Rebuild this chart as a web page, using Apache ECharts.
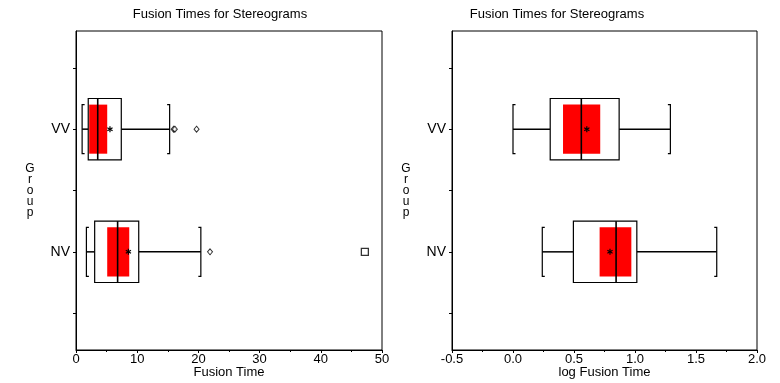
<!DOCTYPE html>
<html>
<head>
<meta charset="utf-8">
<script src="https://cdn.jsdelivr.net/npm/echarts@6/dist/echarts.min.js"></script>
<style>
  html, body { margin: 0; padding: 0; background: #fff; }
  #chart { width: 780px; height: 383px; }
</style>
</head>
<body>
<div id="chart"></div>
<script>
// groups sit at y = 1 (NV) and y = 3 (VV) on the hidden value scale
const groups = ['NV', 'VV'];
const groupPos = [1, 3];
const yTicks = [0, 1, 2, 3, 4];

// raw fusion time
const rawWhiskerLow = [1.7, 1.0];
const rawQ1 = [3.05, 2.0];
const rawMedian = [6.8, 3.55];
const rawQ3 = [10.25, 7.4];
const rawWhiskerHigh = [20.4, 15.3];
const rawCiLow = [5.1, 2.15];
const rawCiHigh = [8.7, 5.1];
const rawMean = [8.56, 5.55];
const rawOutliers = [[21.9, 1], [15.95, 3], [16.15, 3], [19.7, 3]];
const rawFarOutliers = [[47.2, 1]];

// log10 fusion time
const logWhiskerLow = [0.24, 0.0];
const logQ1 = [0.495, 0.305];
const logMedian = [0.845, 0.56];
const logQ3 = [1.015, 0.87];
const logWhiskerHigh = [1.67, 1.29];
const logCiLow = [0.71, 0.41];
const logCiHigh = [0.97, 0.715];
const logMean = [0.795, 0.605];

const rawTicks = { min: 0, max: 50, interval: 10 };
const logTicks = { min: -0.5, max: 2.0, interval: 0.5 };

function boxRows(wl, q1, md, q3, wh, cl, ch, mn) {
    return groups.map((g, i) => [groupPos[i], wl[i], q1[i], md[i], q3[i], wh[i], cl[i], ch[i], mn[i]]);
}

function renderBox(params, api) {
    const y = api.value(0);
    const wl = api.value(1), q1 = api.value(2), md = api.value(3), q3 = api.value(4);
    const wh = api.value(5), cl = api.value(6), ch = api.value(7), mn = api.value(8);
    const px = v => api.coord([v, y])[0];
    const py = api.coord([0, y])[1];
    const boxTop = api.coord([0, y + 0.5])[1], boxBot = api.coord([0, y - 0.5])[1];
    const brTop = api.coord([0, y + 0.4])[1], brBot = api.coord([0, y - 0.4])[1];
    const black = { stroke: '#000', fill: null, lineWidth: 1.2 };
    const kids = [];
    // whiskers
    kids.push({ type: 'line', shape: { x1: px(wl), y1: py, x2: px(q1), y2: py }, style: { stroke: '#000', lineWidth: 1.5 } });
    kids.push({ type: 'line', shape: { x1: px(q3), y1: py, x2: px(wh), y2: py }, style: { stroke: '#000', lineWidth: 1.5 } });
    // brackets
    kids.push({ type: 'polyline', shape: { points: [[px(wl) + 2.5, brTop], [px(wl), brTop], [px(wl), brBot], [px(wl) + 2.5, brBot]] }, style: black });
    kids.push({ type: 'polyline', shape: { points: [[px(wh) - 2.5, brTop], [px(wh), brTop], [px(wh), brBot], [px(wh) - 2.5, brBot]] }, style: black });
    // box
    kids.push({ type: 'rect', shape: { x: px(q1), y: boxTop, width: px(q3) - px(q1), height: boxBot - boxTop }, style: { stroke: '#000', fill: '#fff', lineWidth: 1.2 } });
    // mean interval
    kids.push({ type: 'rect', shape: { x: px(cl), y: brTop, width: px(ch) - px(cl), height: brBot - brTop }, style: { fill: '#ff0000' } });
    // median
    kids.push({ type: 'line', shape: { x1: px(md), y1: boxTop, x2: px(md), y2: boxBot }, style: { stroke: '#000', lineWidth: 1.6 } });
    // mean asterisk
    const mx = px(mn), r = 3;
    for (let a = 0; a < 3; a++) {
        const t = Math.PI / 2 + a * Math.PI / 3;
        kids.push({ type: 'line', shape: { x1: mx - r * Math.cos(t), y1: py - r * Math.sin(t), x2: mx + r * Math.cos(t), y2: py + r * Math.sin(t) }, style: { stroke: '#000', lineWidth: 1.2 } });
    }
    return { type: 'group', children: kids };
}

const font = 'Liberation Sans, Arial, sans-serif';

function xAxis(idx, ticks, name, fmt) {
    return {
        type: 'value', gridIndex: idx, min: ticks.min, max: ticks.max, interval: ticks.interval,
        name: name, nameLocation: 'middle', nameGap: 16, nameMoveOverlap: false,
        nameTextStyle: { color: '#000', fontSize: 13, fontFamily: font },
        axisLine: { onZero: false, lineStyle: { color: '#000', width: 1 } },
        axisTick: { length: 3, lineStyle: { color: '#000' } },
        minorTick: { show: true, splitNumber: 2, length: 2, lineStyle: { color: '#000' } },
        axisLabel: { color: '#000', fontSize: 13, fontFamily: font, margin: 3, formatter: fmt },
        splitLine: { show: false }
    };
}

function yAxis(idx) {
    return {
        type: 'value', gridIndex: idx, min: -0.6, max: 4.6,
        name: 'G\nr\no\nu\np', nameLocation: 'middle', nameRotate: 0, nameGap: 46, nameMoveOverlap: false,
        nameTextStyle: { color: '#000', fontSize: 12, fontFamily: font, lineHeight: 11, align: 'center' },
        axisLine: { onZero: false, lineStyle: { color: '#000', width: 1 } },
        axisTick: { length: 3, customValues: yTicks, lineStyle: { color: '#000' } },
        axisLabel: {
            color: '#000', fontSize: 14, fontFamily: font, margin: 6, customValues: groupPos,
            formatter: v => groups[groupPos.indexOf(v)] || ''
        },
        splitLine: { show: false }
    };
}

const titleStyle = { color: '#000', fontSize: 13, fontWeight: 'normal', fontFamily: font };

const option = {
    animation: false,
    backgroundColor: '#fff',
    title: [
        { text: 'Fusion Times for Stereograms', left: 220, top: 8, textAlign: 'center', padding: 0, textStyle: titleStyle },
        { text: 'Fusion Times for Stereograms', left: 557, top: 8, textAlign: 'center', padding: 0, textStyle: titleStyle }
    ],
    grid: [
        { left: 76, width: 306, top: 31, bottom: 33, outerBoundsMode: 'none', containLabel: false, show: true, borderColor: '#000', borderWidth: 1, backgroundColor: 'transparent' },
        { left: 452, width: 305, top: 31, bottom: 33, outerBoundsMode: 'none', containLabel: false, show: true, borderColor: '#000', borderWidth: 1, backgroundColor: 'transparent' }
    ],
    xAxis: [
        xAxis(0, rawTicks, 'Fusion Time', v => String(v)),
        xAxis(1, logTicks, 'log Fusion Time', v => v.toFixed(1))
    ],
    yAxis: [yAxis(0), yAxis(1)],
    series: [
        {
            type: 'custom', xAxisIndex: 0, yAxisIndex: 0, renderItem: renderBox,
            encode: { x: [1, 2, 3, 4, 5, 6, 7, 8], y: 0 },
            data: boxRows(rawWhiskerLow, rawQ1, rawMedian, rawQ3, rawWhiskerHigh, rawCiLow, rawCiHigh, rawMean)
        },
        {
            type: 'custom', xAxisIndex: 1, yAxisIndex: 1, renderItem: renderBox,
            encode: { x: [1, 2, 3, 4, 5, 6, 7, 8], y: 0 },
            data: boxRows(logWhiskerLow, logQ1, logMedian, logQ3, logWhiskerHigh, logCiLow, logCiHigh, logMean)
        },
        {
            type: 'scatter', xAxisIndex: 0, yAxisIndex: 0, symbol: 'diamond', symbolSize: [5, 6],
            itemStyle: { color: '#fff', borderColor: '#000', borderWidth: 1 },
            data: rawOutliers
        },
        {
            type: 'scatter', xAxisIndex: 0, yAxisIndex: 0, symbol: 'rect', symbolSize: 7,
            itemStyle: { color: '#fff', borderColor: '#000', borderWidth: 1.3 },
            data: rawFarOutliers
        }
    ]
};

const myChart = echarts.init(document.getElementById('chart'), null, { renderer: 'canvas' });
myChart.setOption(option);
</script>
</body>
</html>
